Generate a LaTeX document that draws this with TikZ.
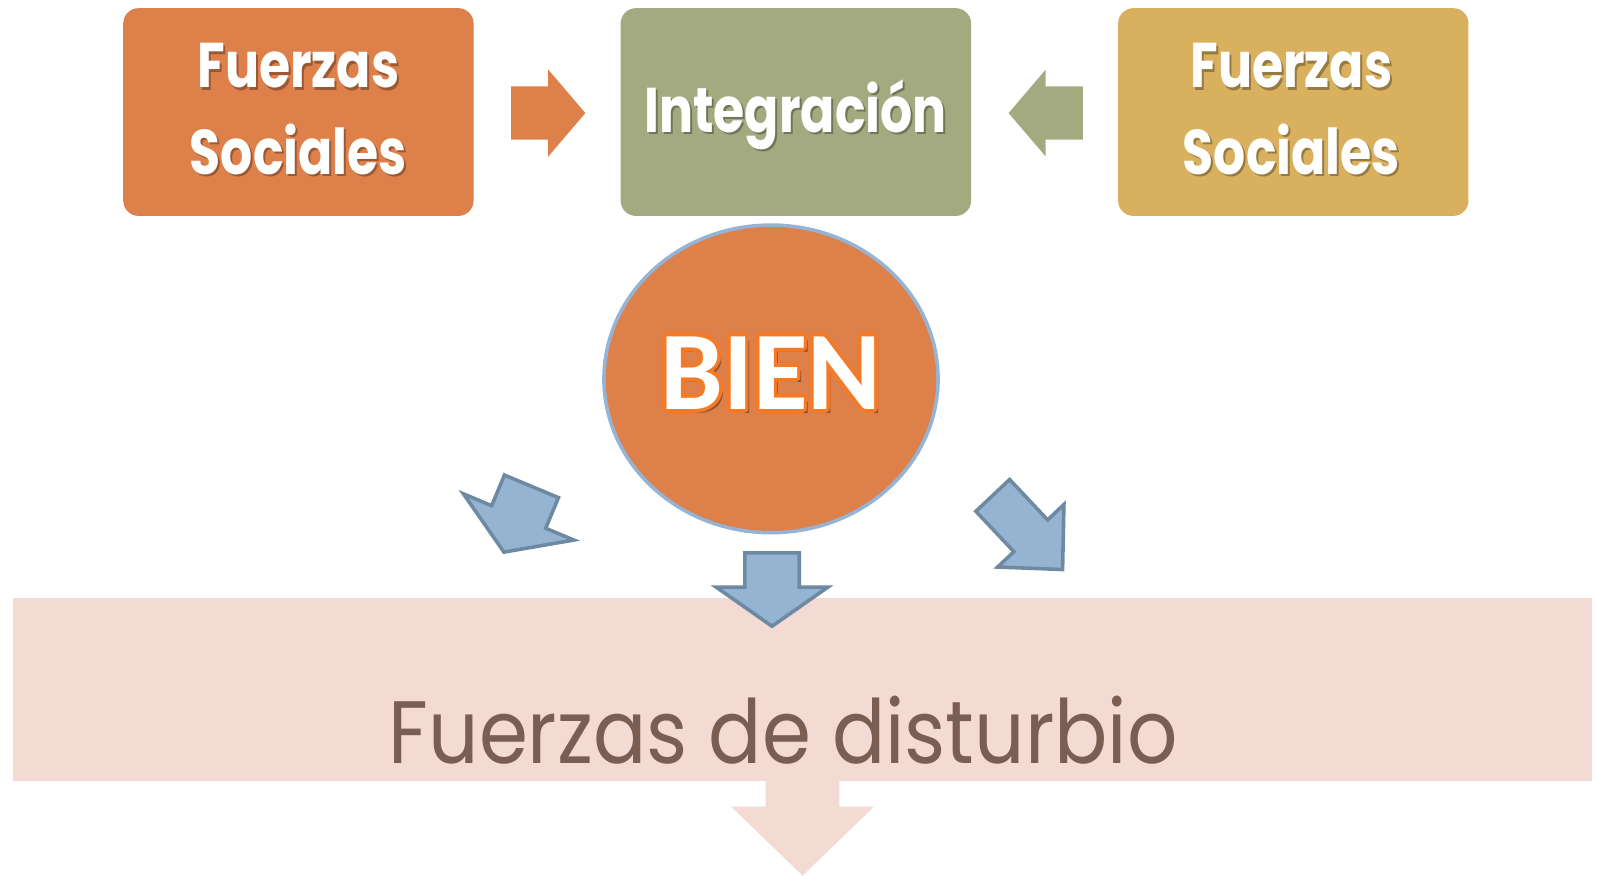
\documentclass[tikz,border=0pt]{standalone}
\usepackage{fontspec}
\setmainfont{Poppins}
\newfontfamily\bienfont{Carlito}
\usetikzlibrary{positioning,shapes.arrows,shapes.geometric}

\definecolor{naranja}{HTML}{DE8049}
\definecolor{oliva}{HTML}{A4AA80}
\definecolor{mostaza}{HTML}{D8B05E}
\definecolor{celeste}{HTML}{95B4D2}
\definecolor{acero}{HTML}{6E8AA3}
\definecolor{bordeazul}{HTML}{95B3D4}
\definecolor{rosa}{HTML}{F3DAD3}
\definecolor{cafe}{HTML}{7A5E54}
\definecolor{contorno}{HTML}{F47A26}

\begin{document}
\begin{tikzpicture}[x=1pt, y=-1pt,
		caja/.style={rounded corners=15pt, minimum width=344pt, minimum height=204pt, inner sep=0pt},
		blanco/.style={text=white, align=center, font=\bfseries\fontsize{62}{85}\selectfont, xscale=.8, transform shape},
		sombra/.style={blanco, text=black, opacity=.3, xshift=2.5pt, yshift=-2.5pt},
		bientxt/.style={font=\bienfont\bfseries\fontsize{110}{110}\selectfont, anchor=base},
		flecha/.style={single arrow, anchor=tip, inner xsep=0pt, text height=0pt, text depth=0pt, minimum width=0pt},
		azul/.style={flecha, fill=celeste, draw=acero, line width=3.5pt}]
	\useasboundingbox (0,0) rectangle (1568,860);

	% cajas de arriba
	\node [caja, fill=naranja] (FS1) at (293,110) {};
	\node [caja, fill=oliva, right=144pt of FS1] (I) {};
	\node [caja, fill=mostaza, right=144pt of I] (FS2) {};

	\node [sombra] at (293,107) {Fuerzas\\Sociales};
	\node [blanco] (t1) at (293,107) {Fuerzas\\Sociales};
	\node [sombra, anchor=base] at (781,130) {Integración};
	\node [blanco, anchor=base] (t2) at (781,130) {Integración};
	\node [sombra] at (1268,107) {Fuerzas\\Sociales};
	\node [blanco] (t3) at (1268,107) {Fuerzas\\Sociales};

	\node [flecha, fill=naranja, minimum height=73pt, inner ysep=26pt, single arrow head extend=16.5pt, single arrow tip angle=99] (fO) at (575,111) {};
	\node [flecha, fill=oliva, rotate=180, minimum height=73pt, inner ysep=26pt, single arrow head extend=16.5pt, single arrow tip angle=99] (fG) at (990,111) {};

	% bien
	\node [ellipse, fill=naranja, draw=bordeazul, line width=3.5pt, minimum width=328pt, minimum height=302pt] (B) at (757,372) {};
	\node [bientxt, text=black, opacity=.35] at (761,406) {BIEN};
	\foreach \a in {0,30,...,330}
		\node [bientxt, text=contorno, shift={(\a:3.5pt)}] at (757,402) {BIEN};
	\node [bientxt, text=white] (bien) at (757,402) {BIEN};

	% fuerzas de disturbio
	\node [fill=rosa, minimum width=1550pt, minimum height=180pt, inner sep=0pt] (FD) at (788,677) {};
	\node [text=cafe, anchor=base, font=\fontsize{87}{87}\selectfont, xscale=.89, transform shape] (t4) at (769,750) {Fuerzas de disturbio};
	\node [flecha, fill=rosa, rotate=270, minimum height=93pt, inner ysep=36pt, single arrow head extend=34pt, single arrow tip angle=92] (fP) at (788,860) {};

	% flechas azules
	\node [azul, rotate=247.3, minimum height=70pt, inner ysep=27pt, single arrow head extend=30pt, single arrow tip angle=115] (fL) at (494,544) {};
	\node [azul, rotate=270, minimum height=72pt, inner ysep=25pt, single arrow head extend=28pt, single arrow tip angle=110] (fD) at (758,617) {};
	\node [azul, rotate=-46.7, minimum height=100pt, inner ysep=21pt, single arrow head extend=22pt, single arrow tip angle=89] (fR) at (1045,561) {};
\end{tikzpicture}
\end{document}
